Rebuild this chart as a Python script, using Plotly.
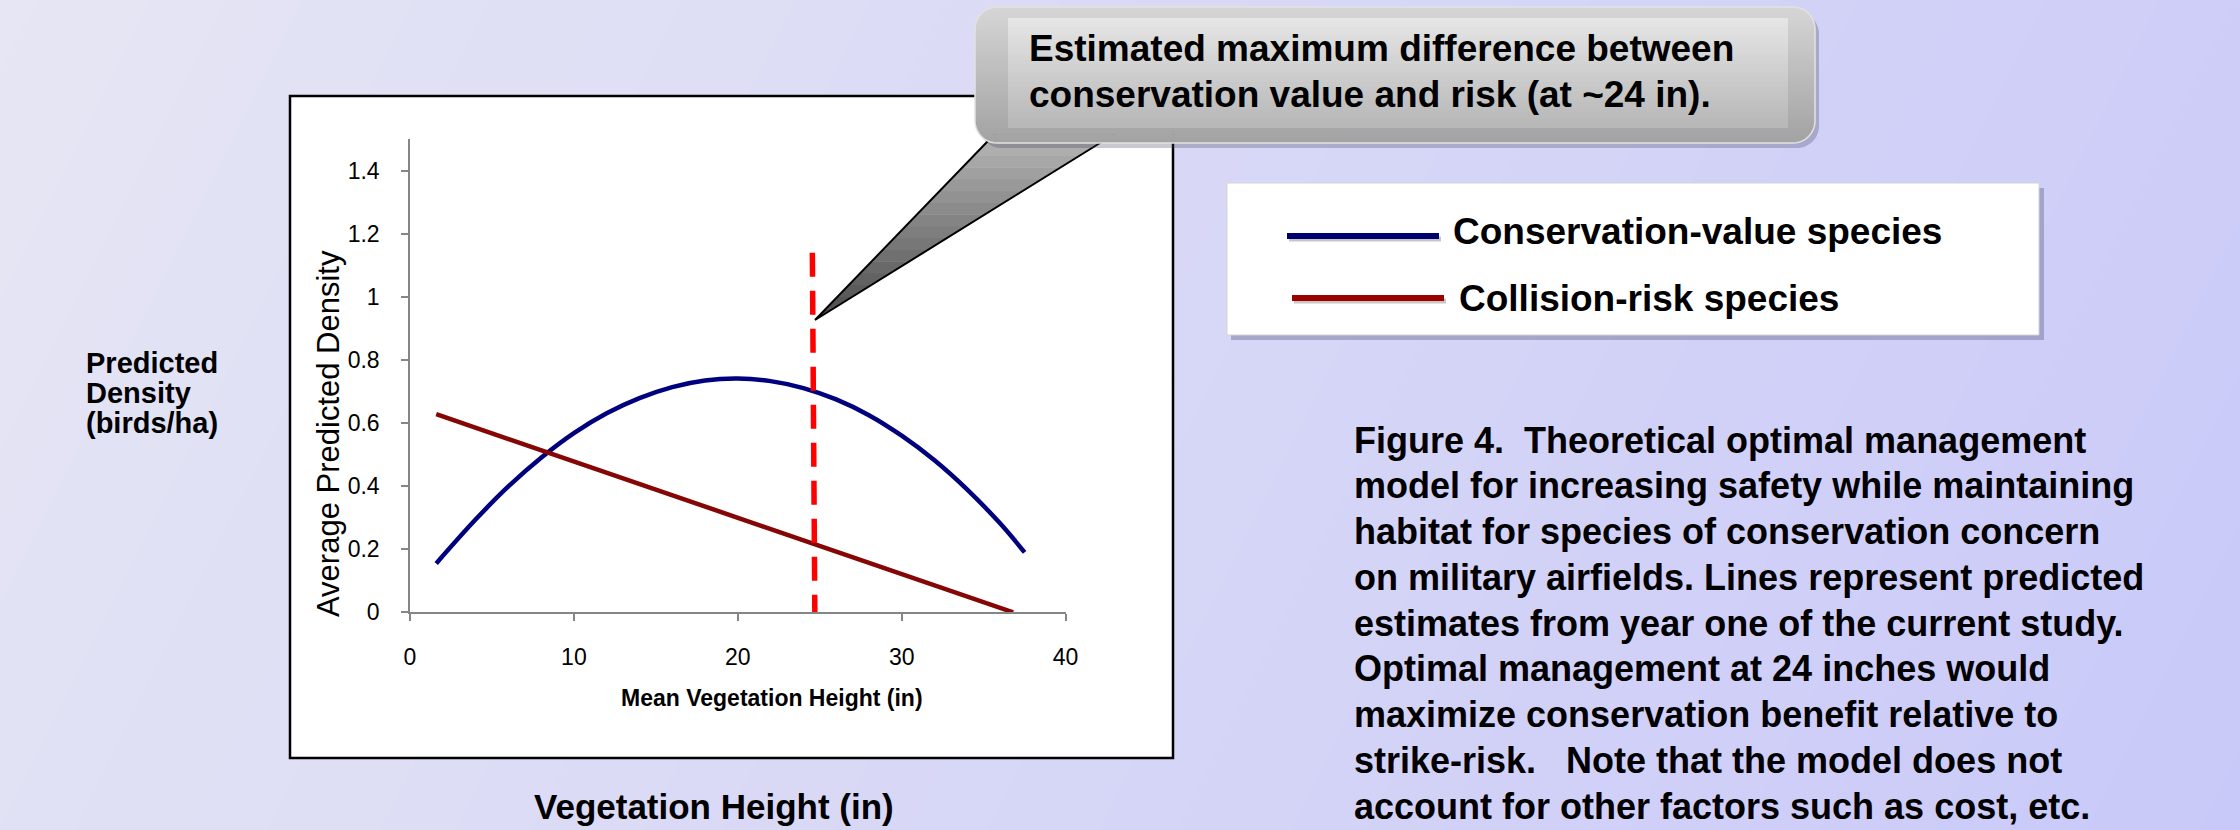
import math
import plotly.graph_objects as go

# ---------------- data ----------------
VEG_HEIGHT_CONS = [1.6, 4, 6, 8, 10, 12, 14, 16, 18, 20, 22, 24, 26, 28, 30, 32, 34, 36, 37.5]
DENSITY_CONS = [0.155, 0.294, 0.399, 0.490, 0.568, 0.631, 0.679, 0.714, 0.735, 0.741,
                0.733, 0.711, 0.675, 0.625, 0.560, 0.482, 0.389, 0.282, 0.19]
VEG_HEIGHT_RISK = [1.6, 36.8]
DENSITY_RISK = [0.628, 0.0]
OPT_X = [24.55, 24.7]
OPT_Y = [1.14, 0.0]
X_TICKS = [0, 10, 20, 30, 40]
Y_TICKS = [0, 0.2, 0.4, 0.6, 0.8, 1.0, 1.2, 1.4]
Y_TICKTEXT = ["0", "0.2", "0.4", "0.6", "0.8", "1", "1.2", "1.4"]
SERIES_NAMES = ["Conservation-value species", "Collision-risk species"]
CALLOUT_LINES = ["Estimated maximum difference between",
                 "conservation value and risk (at ~24 in)."]
CAPTION_LINES = [
    "Figure 4.  Theoretical optimal management",
    "model for increasing safety while maintaining",
    "habitat for species of conservation concern",
    "on military airfields. Lines represent predicted",
    "estimates from year one of the current study.",
    "Optimal management at 24 inches would",
    "maximize conservation benefit relative to",
    "strike-risk.   Note that the model does not",
    "account for other factors such as cost, etc.",
]
LEFT_LABEL_LINES = ["Predicted", "Density", "(birds/ha)"]

# ---------------- helpers ----------------
W, H = 2240, 830
FONT = "Liberation Sans, Arial, Helvetica, sans-serif"


def fx(x):
    return x / W


def fy(y):
    return 1 - y / H


def hex2rgb(c):
    c = c.lstrip("#")
    return [int(c[i:i + 2], 16) for i in (0, 2, 4)]


def mix(c1, c2, t):
    a, b = hex2rgb(c1), hex2rgb(c2)
    return "rgb({},{},{})".format(*[round(a[i] + (b[i] - a[i]) * t) for i in range(3)])


def poly(points, fill, line_color="rgba(0,0,0,0)", line_width=0, layer="above", close=True):
    d = "M " + " L ".join(f"{fx(x):.6f},{fy(y):.6f}" for x, y in points) + (" Z" if close else "")
    return dict(type="path", xref="paper", yref="paper", path=d, fillcolor=fill,
                line=dict(color=line_color, width=line_width), layer=layer)


def rect(x0, y0, x1, y1, fill, line_color="rgba(0,0,0,0)", line_width=0, layer="above"):
    return dict(type="rect", xref="paper", yref="paper", x0=fx(x0), x1=fx(x1), y0=fy(y1), y1=fy(y0),
                fillcolor=fill, line=dict(color=line_color, width=line_width), layer=layer)


def rr_inset(y, y0, y1, r):
    if y < y0 + r:
        dy = y0 + r - y
    elif y > y1 - r:
        dy = y - (y1 - r)
    else:
        return 0.0
    return r - math.sqrt(max(r * r - dy * dy, 0.0))


def rrect_points(x0, y0, x1, y1, r, n=10):
    pts = []
    corners = [(x1 - r, y0 + r, -90, 0), (x1 - r, y1 - r, 0, 90),
               (x0 + r, y1 - r, 90, 180), (x0 + r, y0 + r, 180, 270)]
    for cx, cy, a0, a1 in corners:
        for k in range(n + 1):
            a = math.radians(a0 + (a1 - a0) * k / n)
            pts.append((cx + r * math.cos(a), cy + r * math.sin(a)))
    return pts


def rrect_strips(x0, y0, x1, y1, r, c_top, c_bot, n=40, layer="above"):
    out = []
    for i in range(n):
        ya = y0 + (y1 - y0) * i / n
        yb = min(y1, y0 + (y1 - y0) * (i + 1) / n + 0.7)
        sub = [ya + (yb - ya) * k / 3 for k in range(4)]
        left = [(x0 + rr_inset(y, y0, y1, r), y) for y in sub]
        right = [(x1 - rr_inset(y, y0, y1, r), y) for y in reversed(sub)]
        out.append(poly(left + right, mix(c_top, c_bot, (i + 0.5) / n), layer=layer))
    return out


shapes = []

# ---------------- background gradient (diagonal) ----------------
K = 0.5
N_BG = 70
span = W + K * H
for i in range(N_BG):
    c0 = span * i / N_BG - 1
    c1 = span * (i + 1) / N_BG + 1
    pts = [(c0, -2), (c1, -2), (c1 - K * (H + 4), H + 2), (c0 - K * (H + 4), H + 2)]
    shapes.append(poly(pts, mix("#E6E6F4", "#C9C9F9", (i + 0.5) / N_BG), layer="below"))

# ---------------- chart box ----------------
shapes.append(rect(290, 96, 1173, 758, "white", "black", 2.5, layer="below"))

# ---------------- legend box ----------------
shapes.append(rect(1231, 188, 2044, 340, "rgba(80,80,120,0.35)", layer="above"))
shapes.append(rect(1227, 183, 2039, 335, "white", "#d4d4d4", 1, layer="above"))
LEG_BLUE = "#00006E"
LEG_RED = "#9B0000"
for (xa, xb, yy, col) in [(1287, 1439, 236, LEG_BLUE), (1292, 1444, 298, LEG_RED)]:
    shapes.append(dict(type="line", xref="paper", yref="paper", x0=fx(xa + 2), x1=fx(xb + 2),
                       y0=fy(yy + 3), y1=fy(yy + 3), line=dict(color="rgba(0,0,0,0.22)", width=5),
                       layer="above"))
    shapes.append(dict(type="line", xref="paper", yref="paper", x0=fx(xa), x1=fx(xb),
                       y0=fy(yy), y1=fy(yy), line=dict(color=col, width=6), layer="above"))

# ---------------- callout pointer ----------------
TIP = (815, 320)
BL = (986, 143)
BR = (1100, 143)
Y_BASE = 132


def edge_x(p, y):
    return TIP[0] + (p[0] - TIP[0]) * (TIP[1] - y) / (TIP[1] - p[1])


N_TRI = 16
for i in range(N_TRI):
    ya = TIP[1] - (TIP[1] - Y_BASE) * i / N_TRI + (0.6 if i > 0 else 0)
    yb = TIP[1] - (TIP[1] - Y_BASE) * (i + 1) / N_TRI
    pts = [(edge_x(BL, ya), ya), (edge_x(BL, yb), yb), (edge_x(BR, yb), yb), (edge_x(BR, ya), ya)]
    shapes.append(poly(pts, mix("#4a4a4a", "#b8b8b8", (i + 0.5) / N_TRI)))
shapes.append(poly([(edge_x(BL, Y_BASE), Y_BASE), TIP, (edge_x(BR, Y_BASE), Y_BASE)],
                   "rgba(0,0,0,0)", "black", 2, close=False))

# ---------------- callout box ----------------
BX0, BY0, BX1, BY1, BR_R = 975, 7, 1815, 143, 22
shapes.append(poly(rrect_points(BX0 + 4, BY0 + 5, BX1 + 4, BY1 + 5, BR_R), "rgba(60,60,90,0.28)"))
shapes += rrect_strips(BX0, BY0, BX1, BY1, BR_R, "#d6d6d6", "#a2a2a2", n=46)
shapes += rrect_strips(1008, 18, 1788, 128, 0.01, "#e6e6e6", "#b6b6b6", n=36)
shapes.append(poly(rrect_points(BX0, BY0, BX1, BY1, BR_R), "rgba(0,0,0,0)", "#e2e2e2", 1.5))

# ---------------- annotations ----------------
ann = []


def text(x, y, s, size, bold=True, xanchor="left", angle=0, color="black"):
    ann.append(dict(xref="paper", yref="paper", x=fx(x), y=fy(y), text=f"<b>{s}</b>" if bold else s,
                    showarrow=False, xanchor=xanchor, yanchor="middle", textangle=angle,
                    font=dict(family=FONT, size=size, color=color)))


for i, line in enumerate(CALLOUT_LINES):
    text(1027, 48 + 47 * i, line, 37)

text(1451, 231, SERIES_NAMES[0], 37)
text(1457, 298, SERIES_NAMES[1], 37)

for i, line in enumerate(CAPTION_LINES):
    text(1352, 440 + 45.75 * i, line, 36)

for i, line in enumerate(LEFT_LABEL_LINES):
    text(84, 362.5 + 30 * i, line, 29)

text(714, 806, "Vegetation Height (in)", 35, xanchor="center")
text(771.5, 697.5, "Mean Vegetation Height (in)", 23, xanchor="center")
text(328.5, 433.5, "Average Predicted Density", 31, bold=False, xanchor="center", angle=-90)

# ---------------- traces ----------------
fig = go.Figure()
fig.add_trace(go.Scatter(x=VEG_HEIGHT_CONS, y=DENSITY_CONS, mode="lines", name=SERIES_NAMES[0],
                         line=dict(color="#00007F", width=4.5, shape="spline", smoothing=1.0),
                         showlegend=False))
fig.add_trace(go.Scatter(x=VEG_HEIGHT_RISK, y=DENSITY_RISK, mode="lines", name=SERIES_NAMES[1],
                         line=dict(color="#860606", width=4.5), showlegend=False))
fig.add_trace(go.Scatter(x=OPT_X, y=OPT_Y, mode="lines", name="Optimum",
                         line=dict(color="#FF0000", width=5.5, dash="24px,14px"), showlegend=False))

AX = dict(showline=True, linecolor="#868686", linewidth=1.5, ticks="outside", ticklen=7,
          tickcolor="#868686", tickwidth=1.5, showgrid=False, zeroline=False, automargin=False,
          tickfont=dict(family=FONT, size=23, color="black"))

fig.update_layout(
    width=W, height=H, autosize=False,
    margin=dict(l=0, r=0, t=0, b=0, pad=0, autoexpand=False),
    paper_bgcolor="#D8D8F4", plot_bgcolor="rgba(0,0,0,0)",
    xaxis=dict(domain=[410 / W, 1065.6 / W], range=[0, 40], tickvals=X_TICKS,
               ticklabelstandoff=16, **AX),
    yaxis=dict(domain=[(H - 612.3) / H, (H - 139.2) / H], range=[0, 1.5], tickvals=Y_TICKS,
               ticktext=Y_TICKTEXT, ticklabelstandoff=17, **AX),
    shapes=shapes,
    annotations=ann,
)

POST = (
    "document.documentElement.style.margin='0';"
    "document.documentElement.style.overflow='hidden';"
    "document.body.style.margin='0';document.body.style.padding='0';"
    "document.body.style.overflow='hidden';"
    "var gd=document.getElementById('{plot_id}');"
    "gd.style.position='fixed';gd.style.left='0px';gd.style.top='0px';"
    "gd.style.width='2240px';gd.style.height='830px';"
    "Plotly.relayout(gd,{width:2240,height:830});"
)

fig.write_html("out.html", config={"displayModeBar": False, "responsive": False},
               post_script=POST)
